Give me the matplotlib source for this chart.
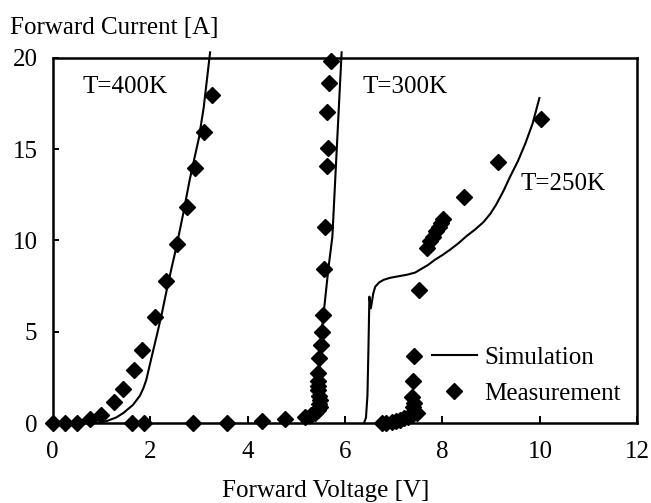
import matplotlib
matplotlib.use('Agg')
import matplotlib.pyplot as plt
from matplotlib.lines import Line2D

plt.rcParams['font.family'] = ['Liberation Serif', 'DejaVu Serif']
plt.rcParams['font.size'] = 18

# simulated I-V curves
sim_400_v = [0.85, 1.1, 1.3, 1.45, 1.65, 1.79, 1.86, 1.92, 2.02, 2.13, 2.24, 2.34, 2.44,
             2.54, 2.68, 2.81, 2.9, 3.0, 3.1, 3.23]
sim_400_i = [0.0, 0.1, 0.3, 0.55, 1.0, 1.5, 1.9, 2.36, 3.5, 4.73, 6.0, 7.29, 8.5,
             9.66, 11.49, 13.3, 14.4, 15.6, 17.3, 20.3]

sim_300_v = [5.3, 5.4, 5.44, 5.47, 5.52, 5.59, 5.66, 5.74, 5.83, 5.93]
sim_300_i = [0.0, 0.3, 1.5, 3.0, 5.0, 6.74, 8.5, 10.2, 15.0, 20.3]

sim_250_v = [6.39, 6.43, 6.46, 6.48, 6.5, 6.53, 6.58, 6.62, 6.7, 6.79, 6.92, 7.06, 7.27,
             7.44, 7.54, 7.7, 7.85, 8.0, 8.16, 8.33, 8.5, 8.67, 8.84, 8.98, 9.1, 9.25,
             9.39, 9.55, 9.7, 9.85, 9.99]
sim_250_i = [0.0, 0.3, 1.5, 4.0, 6.92, 6.28, 7.1, 7.47, 7.7, 7.84, 7.95, 8.02, 8.12,
             8.24, 8.4, 8.65, 8.95, 9.2, 9.5, 9.85, 10.25, 10.6, 11.0, 11.45, 11.95, 12.7,
             13.5, 14.35, 15.3, 16.4, 17.8]

# measured points
meas_400_v = [0.0, 0.25, 0.49, 0.76, 1.0, 1.25, 1.45, 1.66, 1.84, 2.1, 2.32, 2.55,
              2.75, 2.92, 3.1, 3.26]
meas_400_i = [0.0, 0.0, 0.0, 0.2, 0.44, 1.17, 1.85, 2.9, 4.0, 5.82, 7.78, 9.79,
              11.85, 13.96, 15.96, 17.97]

meas_300_v = [1.62, 1.87, 2.87, 3.57, 4.29, 4.77, 5.18, 5.3, 5.38, 5.45, 5.49, 5.47,
              5.49, 5.46, 5.45, 5.44, 5.45, 5.45, 5.47, 5.51, 5.53, 5.55, 5.57, 5.59,
              5.64, 5.66, 5.64, 5.68, 5.71]
meas_300_i = [0.0, 0.0, 0.0, 0.02, 0.1, 0.2, 0.35, 0.45, 0.53, 0.7, 0.89, 1.05,
              1.26, 1.5, 1.81, 2.05, 2.3, 2.72, 3.54, 4.27, 5.0, 5.92, 8.42, 10.76,
              14.08, 15.05, 17.06, 18.6, 19.85]

meas_250_v = [6.75, 6.85, 6.96, 7.05, 7.13, 7.22, 7.3, 7.38, 7.47, 7.4, 7.42, 7.37,
              7.39, 7.42, 7.51, 7.68, 7.75, 7.8, 7.86, 7.92, 7.97, 8.02, 8.44, 9.15, 10.02]
meas_250_i = [0.0, 0.02, 0.07, 0.1, 0.16, 0.25, 0.35, 0.45, 0.53, 0.89, 1.1, 1.44,
              2.32, 3.67, 7.29, 9.6, 9.95, 10.2, 10.5, 10.75, 10.95, 11.15, 12.4, 14.32, 16.66]

temp_labels = ['T=400K', 'T=300K', 'T=250K']
label_pos = [(1.48, 18.4), (7.23, 18.4), (10.48, 13.1)]

fig = plt.figure(figsize=(6.51, 5.03), dpi=100)
ax = fig.add_axes([0.081, 0.159, 0.898, 0.726])

for v, i in [(sim_400_v, sim_400_i), (sim_300_v, sim_300_i), (sim_250_v, sim_250_i)]:
    ax.plot(v, i, color='black', lw=1.5, clip_on=False, zorder=2)

for v, i in [(meas_400_v, meas_400_i), (meas_300_v, meas_300_i), (meas_250_v, meas_250_i)]:
    ax.plot(v, i, ls='none', marker='D', ms=8, color='black', clip_on=False, zorder=3)

for txt, (x, y) in zip(temp_labels, label_pos):
    ax.text(x, y, txt, ha='center', va='center')

ax.set_xlim(0, 12)
ax.set_ylim(0, 20)
ax.set_xticks(range(0, 13, 2))
ax.set_yticks(range(0, 21, 5))
for s in ax.spines.values():
    s.set_linewidth(1.8)
ax.tick_params(axis='x', direction='in', length=5, width=1.4, pad=13)
ax.tick_params(axis='y', direction='in', length=4, width=1.4, pad=11)

handles = [Line2D([], [], color='black', lw=1.5),
           Line2D([], [], ls='none', marker='D', ms=8, color='black')]
ax.legend(handles, ['Simulation', 'Measurement'], frameon=False,
          loc='lower left', bbox_to_anchor=(0.648, 0.049),
          borderpad=0, borderaxespad=0,
          handlelength=1.8, handletextpad=0.3, labelspacing=0.55)

fig.text(0.015, 0.944, 'Forward Current [A]', ha='left', va='center')
fig.text(0.5, 0.024, 'Forward Voltage [V]', ha='center', va='center')

fig.savefig('out.png', dpi=100)
